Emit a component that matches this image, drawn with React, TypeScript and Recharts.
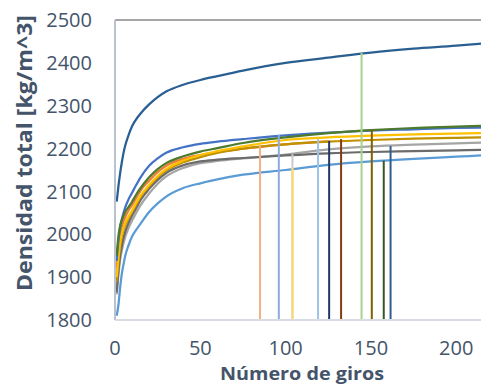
import React from 'react';
import { LineChart, Line, XAxis, YAxis, ReferenceLine, Label } from 'recharts';

// gyrations (x) where each curve was read
const giros = [1, 2, 3, 4, 5, 6, 8, 10, 12, 15, 20, 25, 30, 40, 50, 60, 75, 100, 125, 150, 175, 200, 215];

// density curves, kg/m^3
const mezclaA = [2076, 2112, 2142, 2168, 2190, 2207, 2232, 2252, 2266, 2282, 2303, 2320, 2333, 2349, 2360, 2369, 2382, 2400, 2412, 2424, 2433, 2440, 2445];
const mezclaB = [1938, 1985, 2015, 2035, 2050, 2063, 2082, 2097, 2112, 2133, 2160, 2177, 2190, 2203, 2211, 2216, 2222, 2231, 2237, 2242, 2245, 2248, 2249];
const mezclaC = [1950, 1995, 2020, 2033, 2043, 2052, 2064, 2076, 2090, 2108, 2133, 2152, 2166, 2182, 2193, 2201, 2213, 2226, 2236, 2243, 2248, 2251, 2253];
const mezclaD = [1900, 1945, 1980, 2002, 2015, 2026, 2042, 2055, 2070, 2090, 2115, 2136, 2152, 2172, 2185, 2194, 2205, 2220, 2226, 2230, 2233, 2235, 2236];
const mezclaE = [1890, 1935, 1972, 1995, 2010, 2021, 2038, 2052, 2066, 2088, 2112, 2133, 2149, 2168, 2180, 2190, 2200, 2210, 2216, 2220, 2223, 2225, 2226];
const mezclaF = [1920, 1970, 2000, 2018, 2030, 2040, 2056, 2068, 2082, 2102, 2125, 2145, 2160, 2176, 2185, 2192, 2200, 2210, 2217, null, null, null, null];
const mezclaG = [1860, 1905, 1940, 1962, 1980, 1994, 2015, 2032, 2047, 2068, 2095, 2118, 2135, 2155, 2166, 2171, 2177, 2186, 2198, 2205, 2209, 2212, 2214];
const mezclaH = [1865, 1915, 1950, 1973, 1992, 2006, 2027, 2044, 2058, 2080, 2106, 2127, 2143, 2161, 2170, 2174, 2178, 2184, 2189, 2192, 2194, 2196, 2197];
const mezclaI = [1810, 1835, 1875, 1908, 1930, 1950, 1975, 1995, 2008, 2025, 2052, 2072, 2088, 2108, 2119, 2128, 2139, 2150, 2162, 2170, 2176, 2181, 2184];

// design gyrations marked with vertical lines, and the density they reach
const nDiseno = [85, 96, 104, 104, 119, 125.5, 132.5, 144.5, 150.5, 157.5, 161.5];
const densDiseno = [2206, 2232, 2187, 2155, 2222, 2218, 2222, 2423, 2244, 2172, 2206];

const yTicks = [1800, 1900, 2000, 2100, 2200, 2300, 2400, 2500];
const xTicks = [0, 50, 100, 150, 200];

const series = [
  { key: 'I', values: mezclaI, color: '#5B9BD5' },
  { key: 'G', values: mezclaG, color: '#A5A5A5' },
  { key: 'H', values: mezclaH, color: '#6B6B6B' },
  { key: 'F', values: mezclaF, color: '#ED7D31' },
  { key: 'E', values: mezclaE, color: '#BF9000' },
  { key: 'D', values: mezclaD, color: '#FFC000' },
  { key: 'B', values: mezclaB, color: '#4472C4' },
  { key: 'C', values: mezclaC, color: '#4E7A2D' },
  { key: 'A', values: mezclaA, color: '#2A5F92' },
];

const vColors = ['#F4B183', '#8FAADC', '#C9C9C9', '#FFD966', '#9DC3E6', '#203864', '#843C0C', '#A9D18E', '#7F6000', '#385723', '#2F5E8E'];

const data = giros.map((g, i) => {
  const row: any = { giros: g };
  series.forEach((s) => {
    row[s.key] = s.values[i];
  });
  return row;
});

const textColor = '#44546A';
const font = '"Open Sans", sans-serif';

export default function App() {
  return (
    <div style={{ position: 'absolute', left: 0, top: 0, width: 481, height: 385, background: '#fff' }}>
      <LineChart width={481} height={385} data={data} margin={{ top: 20, right: 0, left: 0, bottom: 0 }}>
        <XAxis
          dataKey="giros"
          type="number"
          domain={[0, 214.5]}
          ticks={xTicks}
          allowDataOverflow
          height={65}
          tickLine={false}
          tickSize={0}
          tickMargin={21}
          axisLine={{ stroke: '#D9DDE3', strokeWidth: 2 }}
          tick={{ fontSize: 20, fill: textColor, fontFamily: font }}
        >
          <Label
            content={() => (
              <text
                x={302}
                y={380}
                textAnchor="middle"
                fontSize={18}
                fontWeight={700}
                fill={textColor}
                fontFamily={font}
                textLength={164}
                lengthAdjust="spacingAndGlyphs"
              >
                Número de giros
              </text>
            )}
          />
        </XAxis>
        <YAxis
          type="number"
          domain={[1800, 2500]}
          ticks={yTicks}
          width={115}
          tickLine={false}
          tickSize={0}
          tickMargin={23}
          axisLine={{ stroke: '#BAC2CE', strokeWidth: 2 }}
          tick={{ fontSize: 20, fill: textColor, fontFamily: font }}
        >
          <Label
            content={() => (
              <text
                x={24}
                y={153}
                transform="rotate(-90 24 153)"
                textAnchor="middle"
                dominantBaseline="central"
                fontSize={20.5}
                fontWeight={700}
                fill={textColor}
                fontFamily={font}
                textLength={276}
                lengthAdjust="spacingAndGlyphs"
              >
                Densidad total [kg/m^3]
              </text>
            )}
          />
        </YAxis>
        <ReferenceLine y={2500} stroke="#A6A6A6" strokeWidth={2} />
        {series.map((s) => (
          <Line
            key={s.key}
            dataKey={s.key}
            type="monotone"
            stroke={s.color}
            strokeWidth={2.25}
            dot={false}
            isAnimationActive={false}
            connectNulls={false}
          />
        ))}
        {nDiseno.map((n, i) => (
          <ReferenceLine
            key={i}
            segment={[
              { x: n, y: 1800 },
              { x: n, y: densDiseno[i] },
            ]}
            stroke={vColors[i]}
            strokeWidth={2}
          />
        ))}
      </LineChart>
    </div>
  );
}
